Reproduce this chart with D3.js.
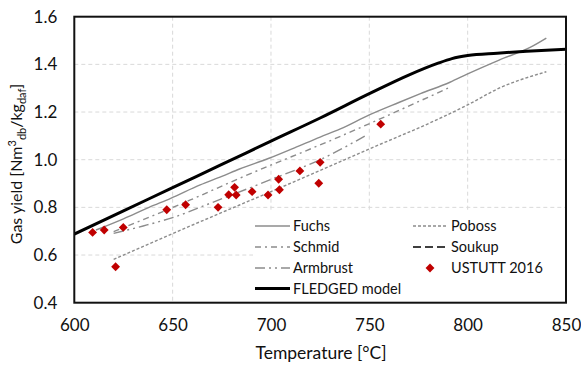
<!DOCTYPE html>
<html><head><meta charset="utf-8">
<script src="https://cdn.jsdelivr.net/npm/d3@7"></script>
<style>body{margin:0;background:#fff}svg{display:block}text{font-family:Lato,"Open Sans",sans-serif;fill:#111}</style>
</head><body><svg id="c" width="581" height="365"></svg>
<script>
const xTicks = [600, 650, 700, 750, 800, 850];
const yTicks = [0.4, 0.6, 0.8, 1.0, 1.2, 1.4, 1.6];

const fuchs = [[611,0.705],[625,0.752],[638,0.800],[649,0.838],[664,0.894],[675,0.930],[684,0.961],[699,1.006],[712,1.050],[725,1.095],[735,1.128],[750,1.188],[765,1.240],[776,1.277],[791,1.325],[800,1.360],[816,1.418],[832,1.472],[840,1.510]];
const poboss = [[620,0.582],[650,0.690],[684,0.810],[700,0.866],[725,0.955],[750,1.045],[786,1.174],[800,1.230],[816,1.300],[840,1.369]];
const schmid = [[620,0.698],[659,0.831],[684,0.922],[735,1.097],[790,1.300]];
const soukup = [];
const armbrust = [[620,0.691],[635,0.722],[650,0.757],[670,0.820],[700,0.917],[725,1.000],[749,1.105]];
const fledged = [[600,0.688],[625,0.785],[650,0.883],[675,0.980],[700,1.078],[725,1.175],[750,1.277],[770,1.355],[785,1.405],[792,1.424],[800,1.437],[815,1.447],[830,1.455],[850,1.463]];
const ustutt = [[609.3,0.695],[615.2,0.705],[621.0,0.551],[624.9,0.716],[647,0.790],[656.6,0.811],[673.1,0.800],[678.5,0.853],[681.5,0.884],[682.3,0.852],[690.4,0.866],[698.5,0.852],[703.9,0.918],[704.3,0.874],[714.7,0.953],[724.3,0.901],[725,0.989],[755.8,1.149]];

const lineSeries = [
  {name:"Fuchs", data:fuchs, color:"#8c8c8c", w:1.4, dash:null, col:0, row:0},
  {name:"Schmid", data:schmid, color:"#8c8c8c", w:1.4, dash:"6,4,2,4", col:0, row:1},
  {name:"Armbrust", data:armbrust, color:"#8c8c8c", w:1.4, dash:"10,4,2,4,2,4", col:0, row:2},
  {name:"FLEDGED model", data:fledged, color:"#000", w:3, dash:null, col:0, row:3},
  {name:"Poboss", data:poboss, color:"#8c8c8c", w:1.4, dash:"3,2", col:1, row:0},
  {name:"Soukup", data:soukup, color:"#000", w:1.6, dash:"8,4", col:1, row:1}
];

const svg = d3.select("#c");
const L=74.3, R=566, T=16.7, B=302.7;
const x = d3.scaleLinear().domain([600,850]).range([L,R]);
const y = d3.scaleLinear().domain([0.4,1.6]).range([B,T]);

const g = svg.append("g");
g.selectAll(".gx").data(xTicks.slice(1,-1)).join("line")
  .attr("x1",d=>x(d)).attr("x2",d=>x(d)).attr("y1",T).attr("y2",B)
  .attr("stroke","#d9d9d9").attr("stroke-width",1).attr("stroke-dasharray","4,3");
g.selectAll(".gy").data(yTicks.slice(1,-1)).join("line")
  .attr("y1",d=>y(d)).attr("y2",d=>y(d)).attr("x1",L).attr("x2",R)
  .attr("stroke","#d9d9d9").attr("stroke-width",1).attr("stroke-dasharray","4,3");

svg.append("rect").attr("x",253).attr("y",212).attr("width",R-253).attr("height",B-212).attr("fill","#fff");

svg.append("clipPath").attr("id","cp").append("rect").attr("x",L).attr("y",T).attr("width",R-L).attr("height",B-T);
const line = d3.line().x(d=>x(d[0])).y(d=>y(d[1])).curve(d3.curveMonotoneX);
const pg = svg.append("g").attr("clip-path","url(#cp)");
lineSeries.filter(s=>s.data.length && s.name!=="FLEDGED model").forEach(s=>{
  pg.append("path").attr("d",line(s.data)).attr("fill","none").attr("stroke",s.color)
    .attr("stroke-width",s.w).attr("stroke-dasharray",s.dash);
});
const fl = lineSeries.find(s=>s.name==="FLEDGED model");
pg.append("path").attr("d",line(fl.data)).attr("fill","none").attr("stroke",fl.color).attr("stroke-width",fl.w);

const diamond = d3.symbol().type(d3.symbolDiamond2).size(50);
svg.append("g").selectAll("path").data(ustutt).join("path")
  .attr("d",diamond).attr("transform",d=>`translate(${x(d[0])},${y(d[1])})`).attr("fill","#c00000");

svg.append("rect").attr("x",L).attr("y",T).attr("width",R-L).attr("height",B-T)
  .attr("fill","none").attr("stroke","#111").attr("stroke-width",2);

const xa = svg.append("g").attr("transform",`translate(0,${B})`).call(d3.axisBottom(x).tickValues(xTicks).tickSize(0).tickPadding(16).tickFormat(d3.format("d")));
xa.select(".domain").remove();
xa.selectAll("text").attr("font-size",17).attr("font-family","Lato").attr("fill","#111");
const ya = svg.append("g").attr("transform",`translate(${L},0)`).call(d3.axisLeft(y).tickValues(yTicks).tickSize(0).tickPadding(17).tickFormat(d3.format(".1f")));
ya.select(".domain").remove();
ya.selectAll("text").attr("font-size",17).attr("font-family","Lato").attr("fill","#111");

svg.append("text").attr("x",321).attr("y",359).attr("text-anchor","middle").attr("font-size",17.5).text("Temperature [°C]");

const yt = svg.append("text").attr("transform","translate(22,164) rotate(-90)").attr("text-anchor","middle").attr("font-size",16);
yt.append("tspan").text("Gas yield [Nm");
yt.append("tspan").attr("font-size",11).attr("dy",-6).text("3");
yt.append("tspan").attr("font-size",11).attr("dy",10).text("db");
yt.append("tspan").attr("dy",-4).text("/kg");
yt.append("tspan").attr("font-size",11).attr("dy",4).text("daf");
yt.append("tspan").attr("dy",-4).text("]");

const rowsY = [226,247,268,288.5];
const colX = [{l0:255,l1:290,t:293},{l0:413,l1:448,t:451}];
const lg = svg.append("g");
lineSeries.forEach(s=>{
  const c = colX[s.col], yy = rowsY[s.row];
  lg.append("line").attr("x1",c.l0).attr("x2",c.l1).attr("y1",yy).attr("y2",yy)
    .attr("stroke",s.color).attr("stroke-width",s.w).attr("stroke-dasharray",s.dash);
  lg.append("text").attr("x",c.t).attr("y",yy).attr("dy","0.35em").attr("font-size",14.5).text(s.name);
});
lg.append("path").attr("d",diamond).attr("transform",`translate(430,${rowsY[2]})`).attr("fill","#c00000");
lg.append("text").attr("x",colX[1].t).attr("y",rowsY[2]).attr("dy","0.35em").attr("font-size",14.5).text("USTUTT 2016");
</script></body></html>
